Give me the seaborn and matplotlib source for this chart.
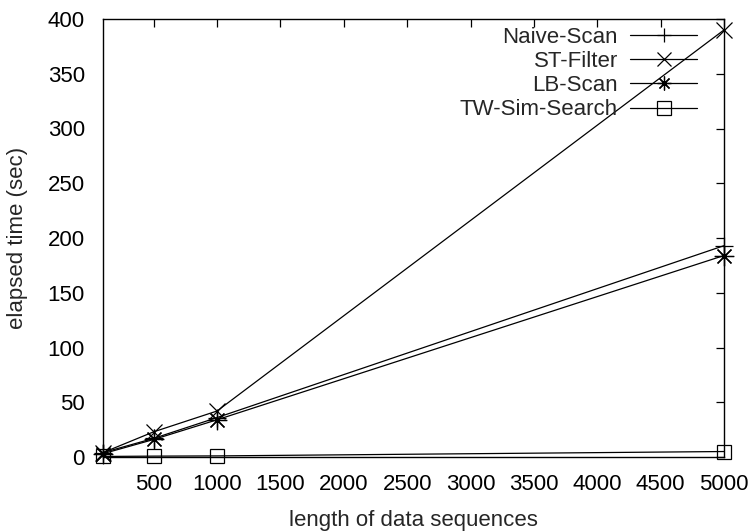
import matplotlib
matplotlib.use("Agg")
import matplotlib.pyplot as plt
import seaborn as sns
import pandas as pd

sizes = [100, 500, 1000, 5000]
naive_scan = [4, 17, 36, 193]
st_filter = [4, 23, 42, 390]
lb_scan = [3, 16, 34, 184]
tw_sim_search = [0.5, 0.8, 1.0, 5.0]
series_names = ["Naive-Scan", "ST-Filter", "LB-Scan", "TW-Sim-Search"]
x_ticks = [500, 1000, 1500, 2000, 2500, 3000, 3500, 4000, 4500, 5000]
y_ticks = [0, 50, 100, 150, 200, 250, 300, 350, 400]

sns.set_theme(style="white")
plt.rcParams['font.family'] = ['Liberation Sans', 'DejaVu Sans']

fig = plt.figure(figsize=(7.52, 5.31), dpi=100)
ax = fig.add_axes([103/752, (531-457)/531, (724-103)/752, (457-19)/531])

values = [naive_scan, st_filter, lb_scan, tw_sim_search]
markers = ['+', 'x', (8, 2, 0), 's']
msizes = [13, 12, 14, 10]
for name, vals, mk, ms in zip(series_names, values, markers, msizes):
    df = pd.DataFrame({"x": sizes, "y": vals})
    kw = dict(markerfacecolor='none') if mk == 's' else {}
    sns.lineplot(data=df, x="x", y="y", ax=ax, color='black', linewidth=0.9,
                 marker=mk, markersize=ms, markeredgewidth=0.9,
                 markeredgecolor='black', label=name, clip_on=False, **kw)

ax.set_xlim(100, 5000)
ax.set_ylim(0, 400)
ax.set_xticks(x_ticks)
ax.set_yticks(y_ticks)
ax.set_xticklabels([str(t) for t in x_ticks])
ax.set_yticklabels([str(t) for t in y_ticks])
ax.tick_params(direction='in', length=6, width=0.9, top=True, right=True,
               labelsize=16, colors='black')
ax.tick_params(axis='x', pad=12)
ax.tick_params(axis='y', pad=13)
for sp in ax.spines.values():
    sp.set_color('black')
    sp.set_linewidth(1.0)
ax.set_xlabel("length of data sequences", fontsize=16, labelpad=11)
ax.set_ylabel("elapsed time (sec)", fontsize=16, labelpad=14)
ax.grid(False)

leg = ax.legend(loc='upper right', bbox_to_anchor=(0.9636, 0.9918),
                frameon=False, markerfirst=False,
                fontsize=16, handlelength=3.0, labelspacing=0.14,
                borderaxespad=0.0, handletextpad=0.55, borderpad=0.2)
for h in leg.legend_handles:
    h.set_markersize(10)

fig.savefig("out.png", dpi=100)
